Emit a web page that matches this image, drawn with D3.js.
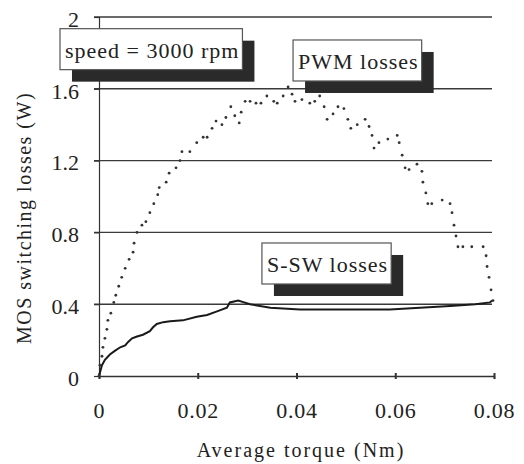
<!DOCTYPE html>
<meta charset="utf-8">
<head>
  <script src="https://cdn.jsdelivr.net/npm/d3@7"></script>
  <style>
    body { margin: 0; background: #fff; }
    svg { display: block; }
  </style>
</head>
<body>
<script>

// datos (torque en Nm, perdidas en W)
var xTicks = [0, 0.02, 0.04, 0.06, 0.08];
var yTicks = [0, 0.4, 0.8, 1.2, 1.6, 2];
var xLabel = "Average torque (Nm)";
var yLabel = "MOS switching losses (W)";

var pwmT = [0, 0.0002, 0.0006, 0.0008, 0.0012, 0.0016, 0.0018, 0.0024, 0.003, 0.0034, 0.004, 0.0046,
  0.0053, 0.0061, 0.0069, 0.0071, 0.0077, 0.0087, 0.0095, 0.0103, 0.0111, 0.0119, 0.0122, 0.0136,
  0.0142, 0.0156, 0.0164, 0.0168, 0.0184, 0.0198, 0.0211, 0.0219, 0.0229, 0.0237, 0.0249, 0.0257,
  0.0267, 0.0275, 0.0284, 0.0288, 0.0296, 0.0306, 0.0318, 0.0328, 0.034, 0.0354, 0.0361, 0.0373,
  0.0383, 0.0391, 0.0397, 0.0411, 0.0427, 0.0437, 0.0447, 0.0456, 0.0462, 0.0474, 0.0484, 0.0496,
  0.0504, 0.051, 0.0523, 0.0539, 0.0547, 0.0553, 0.0557, 0.0567, 0.0585, 0.0604, 0.0608, 0.0614,
  0.062, 0.0628, 0.0644, 0.0654, 0.0656, 0.0662, 0.0666, 0.0674, 0.0695, 0.0711, 0.0715, 0.0719,
  0.0723, 0.0727, 0.0737, 0.0755, 0.0778, 0.0784, 0.0786, 0.079, 0.0794, 0.0798];
var pwmW = [0, 0.06, 0.11, 0.16, 0.21, 0.26, 0.31, 0.35, 0.41, 0.45, 0.5, 0.55,
  0.6, 0.65, 0.69, 0.74, 0.8, 0.84, 0.86, 0.91, 0.96, 1.01, 1.05, 1.08,
  1.13, 1.16, 1.2, 1.25, 1.25, 1.3, 1.33, 1.33, 1.38, 1.42, 1.4, 1.44,
  1.5, 1.45, 1.41, 1.47, 1.53, 1.53, 1.52, 1.52, 1.56, 1.53, 1.52, 1.56,
  1.61, 1.57, 1.53, 1.54, 1.52, 1.53, 1.56, 1.5, 1.43, 1.46, 1.5, 1.49,
  1.43, 1.38, 1.4, 1.43, 1.39, 1.34, 1.27, 1.3, 1.32, 1.34, 1.3, 1.23,
  1.16, 1.15, 1.18, 1.14, 1.08, 1.02, 0.96, 0.96, 0.98, 0.96, 0.91, 0.84,
  0.78, 0.72, 0.72, 0.72, 0.72, 0.67, 0.61, 0.55, 0.48, 0.42];

var sswT = [0, 0.0002, 0.0006, 0.0012, 0.0022, 0.0032, 0.0043, 0.0053, 0.0059, 0.0067, 0.0077,
  0.0089, 0.0103, 0.0109, 0.0117, 0.0130, 0.0144, 0.017, 0.0198, 0.0219, 0.0239, 0.0259, 0.0265, 0.0282,
  0.0294, 0.0306, 0.0347, 0.0407, 0.0468, 0.0529, 0.0589, 0.065, 0.0711, 0.0762, 0.0792, 0.0796];
var sswW = [0, 0.02, 0.06, 0.09, 0.12, 0.14, 0.16, 0.17, 0.19, 0.21, 0.22,
  0.23, 0.25, 0.27, 0.29, 0.3, 0.305, 0.31, 0.33, 0.34, 0.36, 0.38, 0.41, 0.42,
  0.41, 0.4, 0.38, 0.37, 0.37, 0.37, 0.37, 0.38, 0.39, 0.4, 0.41, 0.42];

var notas = ["speed = 3000 rpm", "PWM losses", "S-SW losses"];
// esquina superior izquierda de cada caja, en unidades de datos
var notaT = [-0.0079, 0.0393, 0.0330];
var notaW = [1.935, 1.872, 0.741];

var W = 524, H = 464;
var fuente = "Liberation Serif";

var svg = d3.select("body").append("svg")
  .attr("width", W).attr("height", H)
  .attr("font-family", fuente);

var x = d3.scaleLinear().domain([0, 0.08]).range([99, 494]);
var y = d3.scaleLinear().domain([0, 2]).range([376, 17]);

// rejilla horizontal
svg.selectAll("line.grid")
  .data(yTicks.filter(function(d){ return d > 0; }))
  .enter().append("line")
  .attr("class", "grid")
  .attr("x1", x(0) - 5).attr("x2", x(0.08) - 2)
  .attr("y1", function(d){ return y(d); })
  .attr("y2", function(d){ return y(d); })
  .attr("stroke", "#3a3a3a").attr("stroke-width", 1.4);

// eje y
var yAxis = d3.axisLeft(y).tickValues(yTicks).tickSize(5).tickFormat(d3.format("~g"));
var gy = svg.append("g").attr("transform", "translate(" + x(0) + ",0)").call(yAxis)
  .attr("font-family", fuente);
gy.select(".domain").attr("stroke", "#333").attr("stroke-width", 1.2);
gy.selectAll(".tick line").attr("stroke", "#333").attr("stroke-width", 1.2);
gy.selectAll(".tick text")
  .attr("x", -20).attr("dy", "0.42em")
  .attr("font-size", 22).attr("font-family", fuente)
  .attr("fill", "#222");

// eje x
var xAxis = d3.axisBottom(x).tickValues(xTicks).tickSize(3).tickFormat(d3.format("~g"));
var gx = svg.append("g").attr("transform", "translate(0," + y(0) + ")").call(xAxis)
  .attr("font-family", fuente);
gx.select(".domain").attr("stroke", "#333").attr("stroke-width", 1.4);
gx.selectAll(".tick line").attr("y1", -3).attr("stroke", "#333").attr("stroke-width", 2);
gx.selectAll(".tick text")
  .attr("y", 26).attr("dy", "0.71em")
  .attr("font-size", 22).attr("letter-spacing", 0.8).attr("font-family", fuente)
  .attr("fill", "#222");

// titulos de ejes
svg.append("text")
  .attr("x", 301).attr("y", 457)
  .attr("text-anchor", "middle")
  .attr("font-size", 20).attr("letter-spacing", 2)
  .attr("fill", "#222")
  .text(xLabel);

svg.append("text")
  .attr("transform", "translate(31,218) rotate(-90)")
  .attr("text-anchor", "middle")
  .attr("font-size", 20).attr("letter-spacing", 1.5)
  .attr("fill", "#222")
  .text(yLabel);

// curva S-SW (linea continua)
var ssw = sswT.map(function(t, i){ return [t, sswW[i]]; });
svg.append("path")
  .datum(ssw)
  .attr("d", d3.line().x(function(d){ return x(d[0]); }).y(function(d){ return y(d[1]); }))
  .attr("fill", "none").attr("stroke", "#1a1a1a").attr("stroke-width", 2);

// curva PWM (puntos)
var pwm = pwmT.map(function(t, i){ return [t, pwmW[i]]; });
svg.selectAll("circle.pwm")
  .data(pwm)
  .enter().append("circle")
  .attr("class", "pwm")
  .attr("cx", function(d){ return x(d[0]); })
  .attr("cy", function(d){ return y(d[1]); })
  .attr("r", 1.4)
  .attr("fill", "#333");

// cajas de texto con sombra
notas.forEach(function(s, i){
  var g = svg.append("g")
    .attr("transform", "translate(" + x(notaT[i]) + "," + y(notaW[i]) + ")");
  var sombra = g.append("rect");
  var caja = g.append("rect");
  var txt = g.append("text")
    .attr("x", 5).attr("y", 29)
    .attr("font-size", 22).attr("letter-spacing", 1)
    .attr("fill", "#222")
    .text(s);
  var bw = txt.node().getComputedTextLength() + 8;
  var bh = 41;
  sombra.attr("x", 12).attr("y", 12).attr("width", bw).attr("height", bh)
    .attr("fill", "#2a2a2a");
  caja.attr("width", bw).attr("height", bh)
    .attr("fill", "#fff").attr("stroke", "#555").attr("stroke-width", 1.2);
});

</script>
</body>
